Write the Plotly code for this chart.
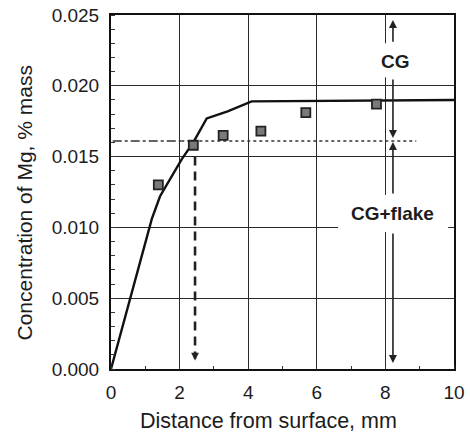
import plotly.graph_objects as go

# ---- data ----
curve_x = [0, 1.19, 1.43, 2.06, 2.40, 2.79, 3.4, 4.1, 10.0]
curve_y = [0, 0.0106, 0.0122, 0.0148, 0.0160, 0.0177, 0.0182, 0.0189, 0.0190]

meas_x = [1.38, 2.40, 3.27, 4.37, 5.68, 7.74]
meas_y = [0.0130, 0.0158, 0.0165, 0.0168, 0.0181, 0.0187]

level_y = 0.0161
dashdot_x = [0.05, 2.05]
dotted_x = [2.05, 8.9]

drop_x = 2.45
drop_y = [0.0150, 0.0010]
drop_tip = 0.0006

zone_x = 8.22
cg_arrows = [  # (tail_y, tip_y)
    (0.0230, 0.02465),
    (0.02055, 0.01632),
    (0.01229, 0.01603),
    (0.00968, 0.00042),
]
cg_label = ("CG", 8.3, 0.02175)
flake_label = ("CG+flake", 8.22, 0.01098)
cg_gap = (7.85, 8.8, 0.0206, 0.0230)
flake_gap = (6.62, 9.83, 0.00968, 0.01229)

x_ticks = [0, 2, 4, 6, 8, 10]
y_ticks = [0, 0.005, 0.010, 0.015, 0.020, 0.025]
x_title = "Distance from surface, mm"
y_title = "Concentration of Mg, % mass"

FONT = "Liberation Sans, Arial, sans-serif"
TXT = "#1c1c1c"

fig = go.Figure()

fig.add_trace(go.Scatter(x=curve_x, y=curve_y, mode="lines",
                         line=dict(color="#111", width=2.4), showlegend=False))
fig.add_trace(go.Scatter(x=dashdot_x, y=[level_y] * 2, mode="lines",
                         line=dict(color="#333", width=1.6, dash="dashdot"), showlegend=False))
fig.add_trace(go.Scatter(x=dotted_x, y=[level_y] * 2, mode="lines",
                         line=dict(color="#333", width=1.6, dash="dot"), showlegend=False))
fig.add_trace(go.Scatter(x=[drop_x] * 2, y=drop_y, mode="lines",
                         line=dict(color="#222", width=2.6, dash="9px,6px"), showlegend=False))
fig.add_trace(go.Scatter(x=meas_x, y=meas_y, mode="markers",
                         marker=dict(symbol="square", size=9, color="#7a7a7a",
                                     line=dict(color="#222", width=1.8)),
                         showlegend=False))

shapes = []
for g in (cg_gap, flake_gap):
    shapes.append(dict(type="rect", xref="x", yref="y", x0=g[0], x1=g[1], y0=g[2], y1=g[3],
                       fillcolor="white", line=dict(width=0), layer="above"))

annotations = []
for tail, tip in cg_arrows:
    annotations.append(dict(x=zone_x, y=tip, ax=zone_x, ay=tail, xref="x", yref="y",
                            axref="x", ayref="y", showarrow=True, arrowhead=2,
                            arrowsize=1.0, arrowwidth=1.6, arrowcolor="#222", text=""))
annotations.append(dict(x=drop_x, y=drop_tip, ax=drop_x, ay=drop_y[1], xref="x", yref="y",
                        axref="x", ayref="y", showarrow=True, arrowhead=2,
                        arrowsize=0.6, arrowwidth=2.6, arrowcolor="#222", text=""))
for t, lx, ly in (cg_label, flake_label):
    annotations.append(dict(x=lx, y=ly, xref="x", yref="y", text=t, showarrow=False,
                            font=dict(family=FONT, size=19, color=TXT, weight="bold")))

# axis titles (placed as annotations to match the original's offsets)
annotations.append(dict(text=x_title, xref="paper", yref="paper",
                        x=(268.5 - 111) / 343, y=-(421 - 369) / 354,
                        xanchor="center", yanchor="middle", showarrow=False,
                        font=dict(family=FONT, size=21.5, color=TXT)))
annotations.append(dict(text=y_title, xref="paper", yref="paper", textangle=-90,
                        x=(24 - 111) / 343, y=(369 - 203.5) / 354,
                        xanchor="center", yanchor="middle", showarrow=False,
                        font=dict(family=FONT, size=21, color=TXT)))

fig.update_layout(
    width=470, height=433,
    margin=dict(l=111, r=16, t=15, b=64),
    plot_bgcolor="white", paper_bgcolor="white",
    shapes=shapes, annotations=annotations,
    font=dict(family=FONT, color=TXT),
)
fig.update_xaxes(
    range=[0, 10], tickvals=x_ticks, ticktext=[str(v) for v in x_ticks],
    showgrid=True, gridcolor="#2a2a2a", gridwidth=1.4,
    showline=True, mirror=True, linecolor="#111", linewidth=2,
    ticks="", zeroline=False, automargin=False,
    minor=dict(ticks="inside", ticklen=3, tickcolor="#333", dtick=1, tick0=0, showgrid=False),
    tickfont=dict(family=FONT, size=19, color=TXT),
    ticklabelstandoff=5,
)
fig.update_yaxes(
    range=[0, 0.025], tickvals=y_ticks, tickformat=".3f",
    showgrid=True, gridcolor="#2a2a2a", gridwidth=1.4,
    showline=True, mirror=True, linecolor="#111", linewidth=2,
    ticks="", zeroline=False, automargin=False,
    minor=dict(ticks="inside", ticklen=4, tickcolor="#333", dtick=0.001, tick0=0, showgrid=False),
    tickfont=dict(family=FONT, size=19, color=TXT),
    ticklabelstandoff=6,
)

fig.write_html("out.html")
